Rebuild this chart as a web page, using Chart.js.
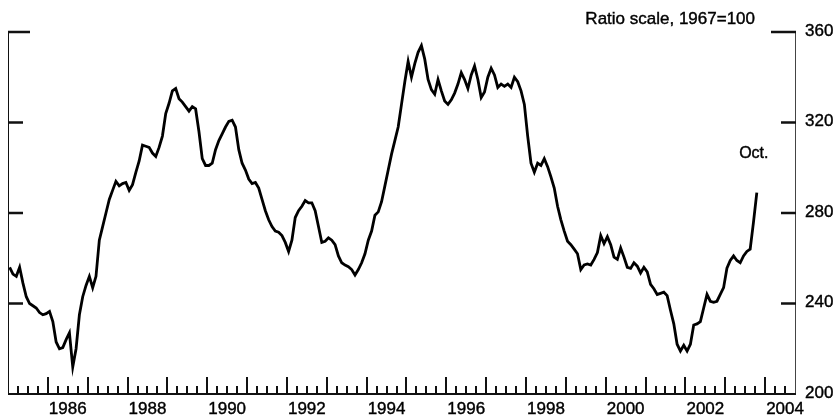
<!DOCTYPE html>
<html>
<head>
<meta charset="utf-8">
<script src="https://cdn.jsdelivr.net/npm/chart.js@4"></script>
<style>
  html, body { margin: 0; padding: 0; background: #fff; }
  #chart { display: block; }
</style>
</head>
<body>
<canvas id="chart" width="837" height="419"></canvas>
<script>
// monthly index, Jan 1985 .. Oct 2003 (ratio scale, 1967=100)
var startYear = 1985;
var values = [
  256, 253, 252, 256, 249, 243, 240, 239, 238, 236, 235, 235.5,       // 1985
  236.5, 232, 223, 220, 220.5, 224, 227, 212, 220, 235, 243, 248,     // 1986
  252, 247, 252, 268, 274, 280, 286, 290, 294, 292, 293, 293.5,       // 1987
  290, 292.5, 298, 303, 310, 309.5, 309, 306.5, 305, 309, 314, 324,   // 1988
  328.5, 334, 335, 330.5, 329, 327, 325, 327, 326, 316, 304, 301,     // 1989
  301, 302, 308, 312, 315, 318, 320.5, 321, 318, 308, 302, 299,       // 1990
  295, 293, 293.5, 291, 286, 281, 277, 274, 272, 271.5, 270, 267,     // 1991
  263, 268, 278, 281, 283, 285.5, 284.5, 284.5, 281, 274, 267, 267.5, // 1992
  269, 268, 266, 261, 258, 257, 256.3, 255, 252.6, 255, 258, 262,     // 1993
  268, 272, 279, 280.5, 285, 292, 299, 306, 312, 318, 328, 338,       // 1994
  347, 340, 346, 351, 354, 348, 339, 334.5, 332.5, 339, 334, 329.5,   // 1995
  328, 330, 333, 337, 342, 339, 335, 341, 345, 339, 331, 333.5,       // 1996
  340, 344, 341, 335.5, 337, 336, 337, 335.5, 340, 338, 334, 328,     // 1997
  314, 302, 298, 302, 301, 304, 300.5, 296, 291, 283, 277, 272,       // 1998
  267.5, 266, 264, 262, 255, 257, 257.5, 257, 259.5, 262.5, 270, 266.5, // 1999
  269.5, 266, 260.5, 259.5, 264.5, 260.5, 256, 255.5, 258, 256.5, 253.5, 256, // 2000
  254, 248.5, 246.5, 244, 244.5, 245, 243.5, 237, 231, 222, 219, 221.5, // 2001
  219, 222, 230.5, 231, 232, 238, 244, 241, 240.5, 241, 244, 247,     // 2002
  255.6, 259, 261, 259, 258, 261, 263, 264, 276, 289                  // 2003 (to Oct.)
];
var yTicks = [200, 240, 280, 320, 360];
var yearLabels = [1986, 1988, 1990, 1992, 1994, 1996, 1998, 2000, 2002, 2004];
var unitNote = "Ratio scale, 1967=100";
var lastNote = "Oct.";

var points = [];
for (var i = 0; i < values.length; i++) {
    points.push({x: startYear + (i + 0.5) / 12, y: values[i]});
}

var FONT = '17px "Liberation Sans", Arial, sans-serif';

// draw text a touch heavier, like the printed original
function inkText(ctx, s, x, y) {
    ctx.fillText(s, x, y);
    ctx.strokeText(s, x, y);
}

// axes drawn by hand: ticks inside the frame, as in the printed chart
var frameAxes = {
    id: 'frameAxes',
    afterDraw: function (chart) {
        var ctx = chart.ctx, a = chart.chartArea;
        var xs = chart.scales.x, ys = chart.scales.y;
        ctx.save();
        ctx.strokeStyle = '#111';
        ctx.lineCap = 'butt';

        // left and right borders
        ctx.lineWidth = 1;
        ctx.beginPath();
        ctx.moveTo(a.left + 0.5, a.top);
        ctx.lineTo(a.left + 0.5, a.bottom);
        ctx.stroke();
        ctx.strokeStyle = '#444';
        ctx.beginPath();
        ctx.moveTo(a.right + 0.5, a.top);
        ctx.lineTo(a.right + 0.5, a.bottom);
        ctx.stroke();

        // bottom axis
        ctx.strokeStyle = '#111';
        ctx.lineWidth = 2;
        ctx.beginPath();
        ctx.moveTo(a.left, a.bottom);
        ctx.lineTo(a.right + 1, a.bottom);
        ctx.stroke();

        // y ticks, both sides
        ctx.lineWidth = 2.5;
        yTicks.forEach(function (v) {
            if (v === ys.min) return;
            var py = ys.getPixelForValue(v);
            var lenL = v === ys.max ? 22 : 15;
            var lenR = v === ys.max ? 25 : 15;
            ctx.beginPath();
            ctx.moveTo(a.left, py);
            ctx.lineTo(a.left + lenL, py);
            ctx.moveTo(a.right + 1, py);
            ctx.lineTo(a.right + 1 - lenR, py);
            ctx.stroke();
        });

        // quarterly x ticks, taller at each new year
        ctx.lineWidth = 2;
        for (var q = xs.min + 0.25; q < xs.max - 0.01; q += 0.25) {
            var px = Math.round(xs.getPixelForValue(q));
            var isYear = Math.abs(q - Math.round(q)) < 0.01;
            ctx.beginPath();
            ctx.moveTo(px, a.bottom);
            ctx.lineTo(px, a.bottom - (isYear ? 17 : 8));
            ctx.stroke();
        }

        // labels
        ctx.fillStyle = '#000';
        ctx.strokeStyle = '#000';
        ctx.lineWidth = 0.4;
        ctx.font = FONT;
        ctx.textAlign = 'left';
        ctx.textBaseline = 'middle';
        yTicks.forEach(function (v) {
            inkText(ctx, String(v), a.right + 10, ys.getPixelForValue(v) - 1);
        });
        ctx.textAlign = 'center';
        ctx.textBaseline = 'alphabetic';
        yearLabels.forEach(function (yr) {
            inkText(ctx, String(yr), xs.getPixelForValue(yr + 0.5), a.bottom + 20);
        });
        ctx.textAlign = 'right';
        inkText(ctx, unitNote, a.right - 40, 24);

        var last = points[points.length - 1];
        ctx.textAlign = 'center';
        ctx.font = '16px "Liberation Sans", Arial, sans-serif';
        inkText(ctx, lastNote, xs.getPixelForValue(last.x) - 3, ys.getPixelForValue(last.y) - 35);
        ctx.restore();
    }
};

var chart = new Chart(document.getElementById('chart').getContext('2d'), {
    type: 'line',
    data: {
        datasets: [{
            data: points,
            borderColor: '#000',
            borderWidth: 2.8,
            pointRadius: 0,
            tension: 0,
            fill: false
        }]
    },
    options: {
        responsive: false,
        animation: false,
        devicePixelRatio: 1,
        layout: {padding: {left: 8, right: 42, top: 32, bottom: 25}},
        plugins: {legend: {display: false}, tooltip: {enabled: false}},
        scales: {
            x: {type: 'linear', min: 1985, max: 2004.75, display: false},
            y: {type: 'linear', min: 200, max: 360, display: false}
        }
    },
    plugins: [frameAxes]
});
</script>
</body>
</html>
